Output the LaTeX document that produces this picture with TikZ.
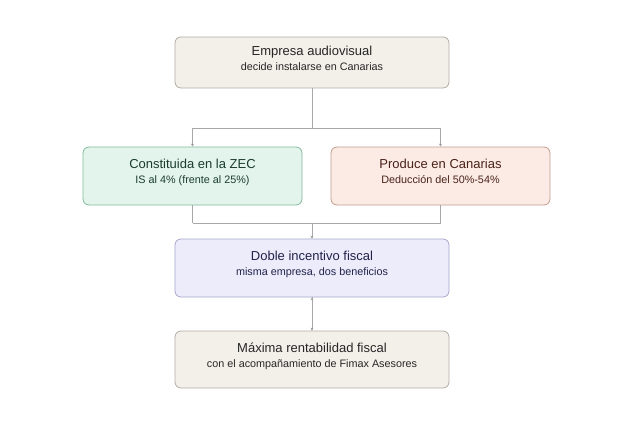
\documentclass[tikz,border=0pt]{standalone}
\usepackage{fontspec}
\setmainfont{Liberation Sans}
\usetikzlibrary{arrows.meta,positioning,calc}

\definecolor{beigefill}{HTML}{F3F0EA}
\definecolor{beigedraw}{HTML}{B3ACA4}
\definecolor{greenfill}{HTML}{E2F4EC}
\definecolor{greendraw}{HTML}{82B99C}
\definecolor{greentext}{HTML}{1C3D2C}
\definecolor{rosefill}{HTML}{FBEBE4}
\definecolor{rosedraw}{HTML}{C29C8E}
\definecolor{rosetext}{HTML}{4A2218}
\definecolor{lilacfill}{HTML}{ECECFB}
\definecolor{lilacdraw}{HTML}{A8A8C8}
\definecolor{lilactext}{HTML}{22224A}
\definecolor{linkgray}{HTML}{A8A8A8}

\newcommand{\twolines}[2]{{\fontsize{13}{15}\selectfont #1}\\[3pt]{\fontsize{10.8}{12}\selectfont #2\rule[-8.5pt]{0pt}{8.5pt}}}

\begin{document}
\begin{tikzpicture}
  [x=1pt,y=-1pt,
   box/.style={rectangle, rounded corners=6pt, draw, line width=0.8pt, align=center, inner sep=0pt},
   wide/.style={box, minimum width=274pt},
   half/.style={box, minimum width=219pt, minimum height=58pt},
   link/.style={draw=linkgray, line width=0.7pt},
   tip/.style={link, -{Stealth[length=3pt,width=3pt]}}]
  \useasboundingbox (0,0) rectangle (624,426);

  \node [wide, minimum height=51pt, fill=beigefill, draw=beigedraw, text=black!85] (empresa) at (312,62.5)
    {\twolines{Empresa audiovisual}{decide instalarse en Canarias}};
  \node [half, fill=greenfill, draw=greendraw, text=greentext] (zec) at (192.5,176)
    {\twolines{Constituida en la ZEC}{IS al 4\% (frente al 25\%)}};
  \node [half, fill=rosefill, draw=rosedraw, text=rosetext] (produce) at (440.5,176)
    {\twolines{Produce en Canarias}{Deducción del 50\%-54\%}};
  \node [wide, minimum height=58pt, fill=lilacfill, draw=lilacdraw, text=lilactext] (doble) at (312,268)
    {\twolines{Doble incentivo fiscal}{misma empresa, dos beneficios}};
  \node [wide, minimum height=57pt, fill=beigefill, draw=beigedraw, text=black!85] (maxima) at (312,359.5)
    {\twolines{Máxima rentabilidad fiscal}{con el acompañamiento de Fimax Asesores}};

  % junctions
  \coordinate (split) at (312,128);
  \coordinate (join) at (312,223);

  \path [link]
  (empresa.south) edge (split)
  (zec.north |- split) edge (produce.north |- split)
  (zec.south) edge (zec.south |- join)
  (produce.south) edge (produce.south |- join)
  (zec.south |- join) edge (produce.south |- join);

  \path [tip]
  (zec.north |- split) edge (zec.north)
  (produce.north |- split) edge (produce.north)
  (join) edge (doble.north)
  (doble.south) edge (maxima.north);
\end{tikzpicture}
\end{document}
